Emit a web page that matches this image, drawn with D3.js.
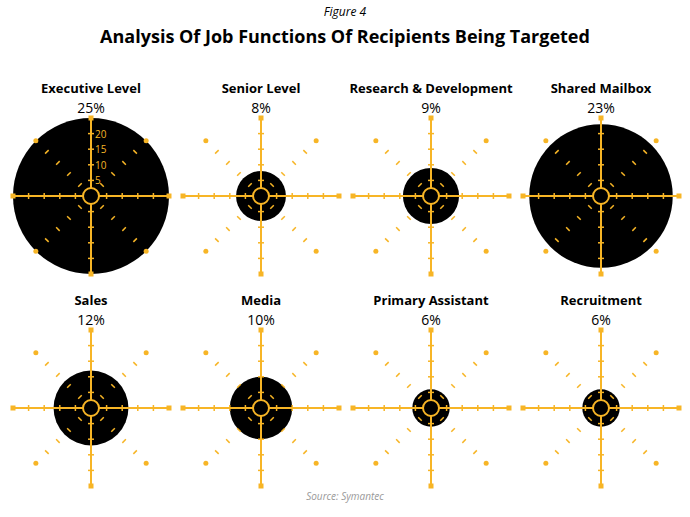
<!DOCTYPE html>
<html><head><meta charset="utf-8">
<script src="https://cdn.jsdelivr.net/npm/d3@7"></script>
<style>body{margin:0;background:#fff}text{font-family:"Open Sans",sans-serif}</style>
</head><body>
<svg id="chart" width="690" height="517"></svg>
<script>
const functions = ["Executive Level", "Senior Level", "Research & Development", "Shared Mailbox",
                   "Sales", "Media", "Primary Assistant", "Recruitment"]
const shares = [25, 8, 9, 23, 12, 10, 6, 6]
const ringTicks = [5, 10, 15, 20]

const gold = "#f7b526"
const svg = d3.select("#chart")

svg.append("text").attr("x", 345).attr("y", 16).attr("text-anchor", "middle")
    .style("font-style", "italic").style("font-size", "12px").text("Figure 4")
svg.append("text").attr("x", 345).attr("y", 43).attr("text-anchor", "middle")
    .style("font-weight", "bold").style("font-size", "18px").text("Analysis Of Job Functions Of Recipients Being Targeted")
svg.append("text").attr("x", 345).attr("y", 500).attr("text-anchor", "middle")
    .style("font-style", "italic").style("font-size", "10px").attr("fill", "#999").text("Source: Symantec")

// radius scale shared by all targets
const r = d3.scaleLinear().domain([0, 25]).range([0, 78])
const col = d3.scalePoint().domain(d3.range(4)).range([91, 601])
const row = d3.scalePoint().domain([0, 1]).range([196, 408])

functions.forEach((name, i) => {
    const g = svg.append("g").attr("transform", `translate(${col(i % 4)},${row(Math.floor(i / 4))})`)

    g.append("text").attr("y", -103).attr("text-anchor", "middle")
        .style("font-weight", "bold").style("font-size", "13px").text(name)
    g.append("text").attr("y", -83).attr("text-anchor", "middle")
        .style("font-size", "14px").text(shares[i] + "%")

    g.append("circle").attr("r", r(shares[i])).attr("fill", "#000")

    // cross axes
    g.append("line").attr("x1", -r(25)).attr("x2", r(25)).attr("stroke", gold).attr("stroke-width", 2)
    g.append("line").attr("y1", -r(25)).attr("y2", r(25)).attr("stroke", gold).attr("stroke-width", 2)
    ;[[1, 0], [-1, 0], [0, 1], [0, -1]].forEach(([dx, dy]) => {
        ringTicks.forEach(t => {
            const d = r(t)
            g.append("line")
                .attr("x1", dx * d - dy * 3).attr("x2", dx * d + dy * 3)
                .attr("y1", dy * d - dx * 3).attr("y2", dy * d + dx * 3)
                .attr("stroke", gold).attr("stroke-width", 1.5)
        })
        g.append("rect").attr("x", dx * r(25) - 2.5).attr("y", dy * r(25) - 2.5)
            .attr("width", 5).attr("height", 5).attr("fill", gold)
    })

    // diagonal dashes
    ;[45, 135, 225, 315].forEach(a => {
        const rad = a * Math.PI / 180, c = Math.cos(rad), s = Math.sin(rad)
        ringTicks.forEach(t => {
            const d = r(t)
            g.append("line")
                .attr("x1", c * d - s * 2.5).attr("x2", c * d + s * 2.5)
                .attr("y1", s * d + c * 2.5).attr("y2", s * d - c * 2.5)
                .attr("stroke", gold).attr("stroke-width", 1.5)
        })
        g.append("circle").attr("cx", c * r(25)).attr("cy", s * r(25)).attr("r", 2.5).attr("fill", gold)
    })

    g.append("circle").attr("r", 8).attr("fill", "#000").attr("stroke", gold).attr("stroke-width", 2)

    if (i === 0) {
        ringTicks.forEach(t => {
            g.append("text").attr("x", 4).attr("y", -r(t) + 4)
                .style("font-size", "10px").attr("fill", gold).text(t)
        })
    }
})
</script>
</body></html>
